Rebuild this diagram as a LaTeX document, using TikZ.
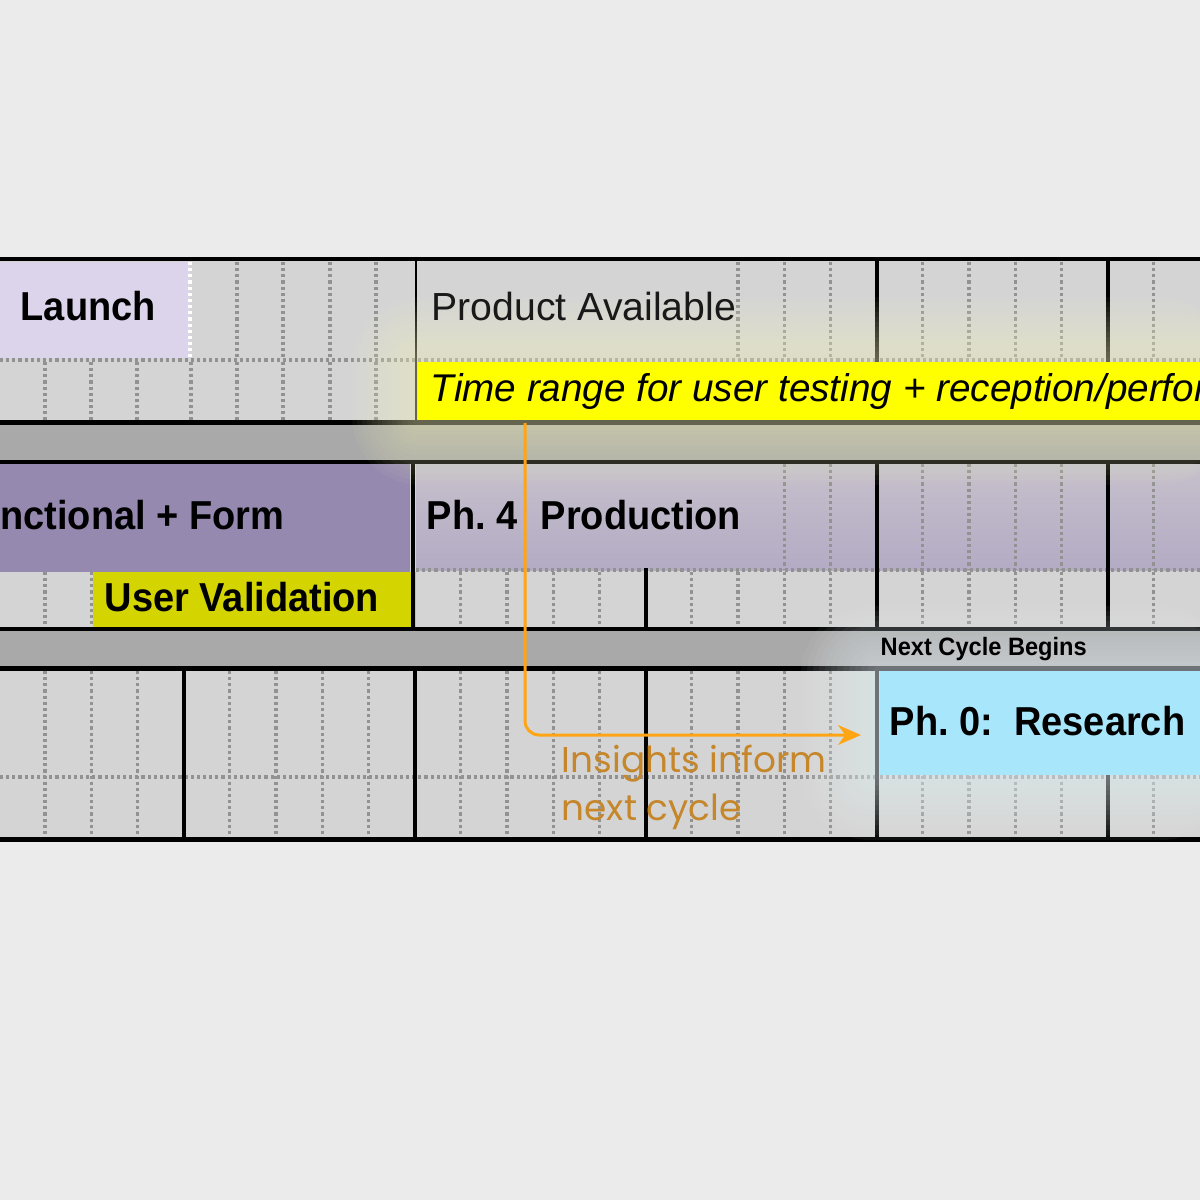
\documentclass[tikz,border=0pt]{standalone}
\usepackage{fontspec}
\setmainfont{Liberation Sans}[FakeStretch=0.94]
\newfontfamily\plainfont{Liberation Sans}
\newfontfamily\roundfont{Poppins}
\usetikzlibrary{arrows.meta}
\definecolor{page}{HTML}{EBEBEB}
\definecolor{cellgray}{HTML}{D4D4D4}
\definecolor{bandgray}{HTML}{A9A9A9}
\definecolor{dotgray}{HTML}{929292}
\definecolor{launchlav}{HTML}{DCD4EB}
\definecolor{formpurple}{HTML}{9589B0}
\definecolor{prodtop}{HTML}{C6C0CC}
\definecolor{prodbot}{HTML}{B3ABC4}
\definecolor{validyellow}{HTML}{D4D400}
\definecolor{rangeyellow}{HTML}{FFFF00}
\definecolor{researchblue}{HTML}{A8E6FC}
\definecolor{arroworange}{HTML}{FFA412}
\definecolor{insighttext}{HTML}{C6862A}
\definecolor{glowyellow}{HTML}{F4F4C0}
\definecolor{glowblue}{HTML}{EAF4FA}

\begin{document}
\begin{tikzpicture}[x=0.1mm,y=-0.1mm,
  minor/.style={dotgray,line width=0.95pt,dash pattern=on 0.9pt off 0.85pt},
  major/.style={black,line width=1.1pt},
  rowline/.style={black,line width=1.4pt},
  label/.style={inner sep=0pt,anchor=base west},
  bigbold/.style={label,font=\fontsize{11.5}{13}\selectfont\bfseries},
  insight/.style={arroworange,line width=0.85pt,rounded corners=4pt,
    -{Stealth[length=6.5pt,width=5.6pt,inset=2pt]}}]
  \pgfmathsetmacro{\w}{46.2}
  \useasboundingbox (0,0) rectangle (1200,1200);
  \clip (0,0) rectangle (1200,1200);
  \fill[page] (0,0) rectangle (1200,1200);

  % rows and bands
  \fill[cellgray] (0,259) rectangle (1200,422.5);
  \fill[cellgray] (0,462) rectangle (1200,629);
  \fill[cellgray] (0,668.5) rectangle (1200,839.5);
  \fill[bandgray] (0,422.5) rectangle (1200,462);
  \fill[bandgray] (0,629) rectangle (1200,668.5);

  % phase blocks
  \fill[launchlav] (0,262) rectangle (190,358);
  \fill[formpurple] (0,464) rectangle (410,572);
  \fill[top color=prodtop,bottom color=prodbot] (416,464) rectangle (1200,570);
  \fill[validyellow] (92.5,572) rectangle (416,627);

  % dotted week lines
  \foreach \x in {237,283,330,376}{
    \draw[minor] (\x,262) -- (\x,358);
  }
  \foreach \x in {45,91,137,191,237,283,330,376}{
    \draw[minor] (\x,362) -- (\x,420);
  }
  \draw[minor,white] (190,262) -- (190,358);
  \foreach \k in {16,17,18,20,21,22,23,25}{
    \draw[minor] ({\w*\k-1.2},262) -- ++(0,96);
  }
  \foreach \k in {17,18,20,21,22,23,25}{
    \draw[minor] ({\w*\k-1.2},464) -- ++(0,106);
  }
  \foreach \k in {1,2,10,11,12,13,15,16,17,18,20,21,22,23,25}{
    \draw[minor] ({\w*\k-1.2},572) -- ++(0,55);
  }
  \foreach \k in {1,2,3,5,6,7,8,10,11,12,13,15,16,17,18,20,21,22,23,25}{
    \draw[minor] ({\w*\k-1.2},671) -- ++(0,166);
  }
  \draw[minor] (0,360) -- (1200,360);
  \draw[minor] (416,570) -- (1200,570);
  \draw[minor] (0,777) -- (1200,777);

  % month lines
  \draw[major,line width=0.8pt] (416,259) -- (416,422.5);
  \draw[major,line width=1.3pt] (413,462) -- (413,629);
  \draw[major] ({\w*14-1.2},568) -- ({\w*14-1.2},629);
  \foreach \k in {19,24}{
    \draw[major] ({\w*\k-1.2},259) -- ++(0,163.5);
    \draw[major] ({\w*\k-1.2},462) -- ++(0,167);
  }
  \foreach \k in {4,9,14,19,24}{
    \draw[major] ({\w*\k-1.2},668.5) -- ++(0,171);
  }
  \foreach \y in {259,422.5,462,629,668.5,839.5}{
    \draw[rowline] (0,\y) -- (1200,\y);
  }

  % glows
  \foreach \g in {1,...,13}{
    \pgfmathsetmacro{\rad}{\g*1.5}
    \fill[glowyellow,opacity=0.045,rounded corners=\rad pt]
      (417-\g*5,362-\g*5) rectangle (1230,420+\g*5);
    \fill[glowblue,opacity=0.05,rounded corners=\rad pt]
      (879-\g*6,671-\g*5) rectangle (1230,775+\g*5);
  }
  \fill[rangeyellow] (417.5,362) rectangle (1200,419.5);
  \fill[researchblue] (879.5,671) rectangle (1200,775);

  % feedback arrow
  \coordinate (src) at (525,423);
  \coordinate (tip) at (861,735);
  \draw[insight] (src) |- (tip);

  % labels
  \node[bigbold] (launch) at (20,320.7) {Launch};
  \node[label,font=\plainfont\fontsize{11.15}{13}\selectfont,black!90] (avail) at (431,320) {Product Available};
  \node[label,font=\plainfont\itshape\fontsize{11}{13}\selectfont] (range) at (430,401.7) {Time range for user testing + reception/performance};
  \node[bigbold,anchor=base east] (form) at (285,529) {Functional + Form};
  \node[bigbold] (prod) at (426,529) {Ph.~4~~\hspace{0.6pt}Production};
  \node[bigbold] (valid) at (104,611.7) {User Validation};
  \node[label,font=\fontsize{7.15}{8}\selectfont\bfseries] (next) at (880,655) {Next Cycle Begins};
  \node[bigbold] (research) at (889,735) {Ph.~0:~~Research};
  \node[label,align=left,text=insighttext,font=\roundfont\fontsize{10.2}{13.4}\selectfont] (insight) at (561,820) {Insights inform\\next cycle};
\end{tikzpicture}
\end{document}
